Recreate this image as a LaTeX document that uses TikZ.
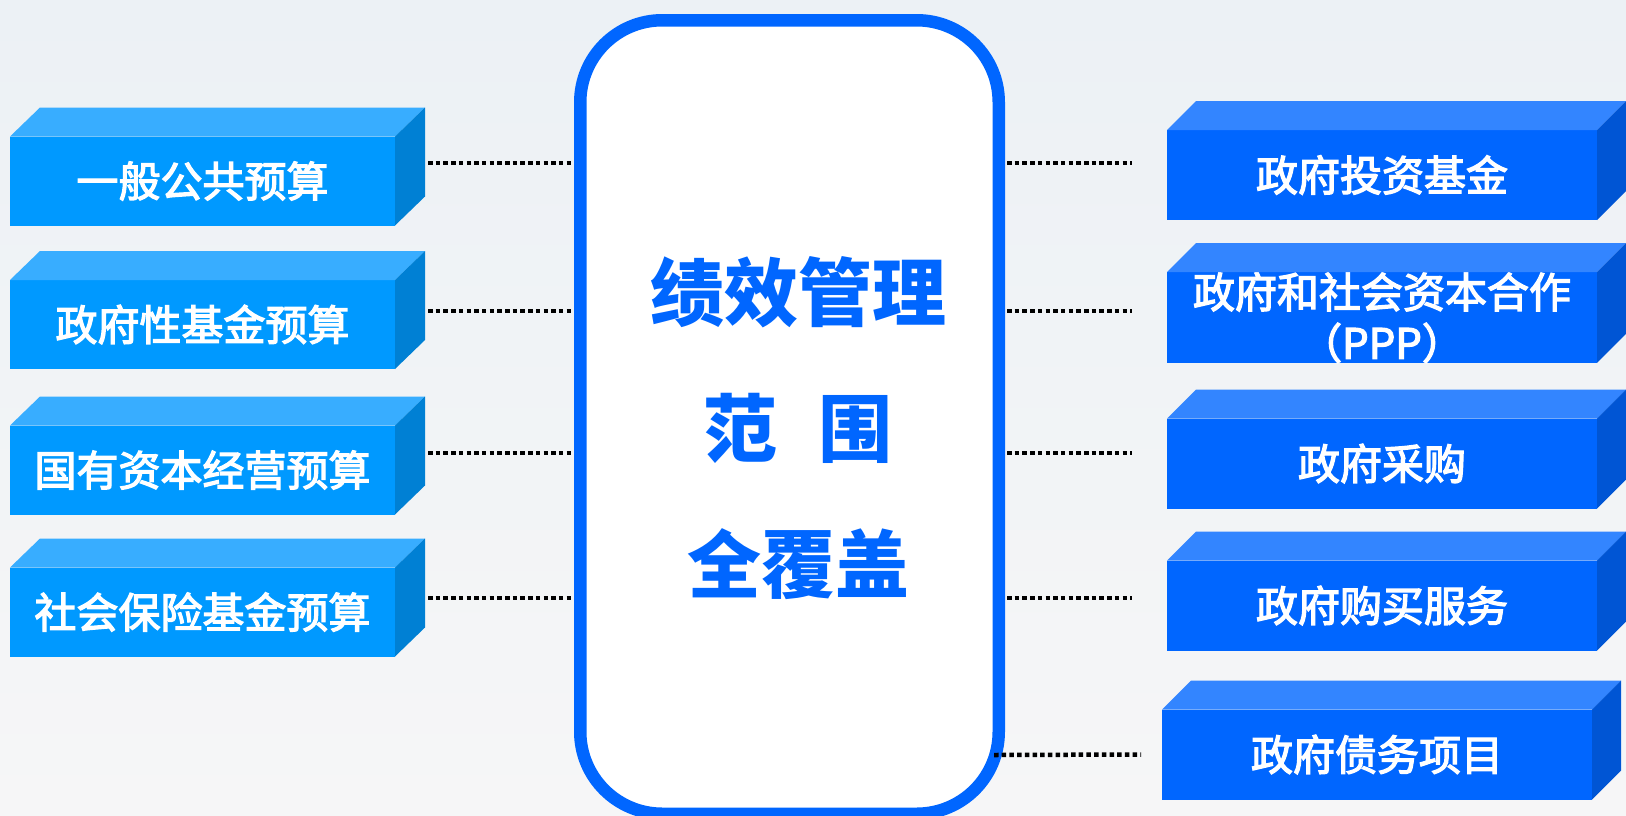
\documentclass[tikz,border=0pt]{standalone}
\usepackage{fontspec}
\newfontfamily\cjk{Noto Sans CJK SC}
\newfontfamily\cjkm{Noto Sans CJK SC}[FakeBold=3]
\usetikzlibrary{calc}
\definecolor{bgtop}{RGB}{236,241,245}
\definecolor{bgbot}{RGB}{246,246,247}
\definecolor{lfront}{RGB}{0,153,255}
\definecolor{ltop}{RGB}{56,173,255}
\definecolor{lside}{RGB}{0,128,212}
\definecolor{rfront}{RGB}{0,102,255}
\definecolor{rtop}{RGB}{51,133,255}
\definecolor{rside}{RGB}{0,85,212}
\definecolor{cblue}{RGB}{0,102,255}
\newcommand\boxfaces[4]{% node, top colour, side colour, depth
  \fill[#2] (#1.north west) -- ++(#4,-29) -- ($(#1.north east)+(#4,-29)$) -- (#1.north east) -- cycle;
  \fill[#3] (#1.north east) -- ++(#4,-29) -- ($(#1.south east)+(#4,-29)$) -- (#1.south east) -- cycle;
}
\begin{document}
\begin{tikzpicture}[x=1pt,y=-1pt,
  boxtext/.style={text=white, inner sep=0pt, outer sep=0pt, align=center,
    font=\cjkm\fontsize{42}{51}\selectfont},
  lbox/.style={boxtext, fill=lfront, minimum width=385pt, minimum height=89pt},
  rbox/.style={boxtext, fill=rfront, minimum width=430pt, minimum height=90pt},
  dotline/.style={black, line width=4.5pt, dash pattern=on 4.5pt off 3.2pt},
  centre/.style={draw=cblue, line width=12.5pt, fill=white, rounded corners=82pt,
    minimum width=418.5pt, minimum height=793.5pt, inner sep=0pt},
  centretext/.style={text=cblue, align=center,
    font=\cjk\bfseries\fontsize{74}{136}\selectfont}
]
\useasboundingbox (0,0) rectangle (1626,815);
\shade[top color=bgtop, bottom color=bgbot] (0,0) rectangle (1626,815);

% left boxes
\node[lbox] (L1) at (202.5,181) {一般公共预算};
\node[lbox] (L2) at (202.5,324.5) {政府性基金预算};
\node[lbox] (L3) at (202.5,470) {国有资本经营预算};
\node[lbox] (L4) at (202.5,612) {社会保险基金预算};
\foreach \n in {L1,L2,L3,L4} {\boxfaces{\n}{ltop}{lside}{30}}

% right boxes
\node[rbox] (R1) at (1382,175) {政府投资基金};
\node[rbox] (R2) at (1382,317.5) {政府和社会资本合作\\（PPP）};
\node[rbox] (R3) at (1382,463.5) {政府采购};
\node[rbox] (R4) at (1382,605.5) {政府购买服务};
\node[rbox] (R5) at (1377,754.5) {政府债务项目};
\foreach \n in {R1,R2,R3,R4,R5} {\boxfaces{\n}{rtop}{rside}{29}}

% centre
\node[centre] (C) at (789.5,417) {};
\node[centretext] (T) at (798,428) {绩效管理\\范\hspace{0.55em}围\\全覆盖};

% connectors
\coordinate (a1) at ($(L1.east)+(33,-18)$);
\coordinate (a2) at ($(L2.east)+(33,-13.5)$);
\coordinate (a3) at ($(L3.east)+(33,-17)$);
\coordinate (a4) at ($(L4.east)+(33,-14)$);
\foreach \a in {a1,a2,a3,a4} {\draw[dotline] (\a) -- (C.west |- \a);}
\coordinate (b1) at ($(R1.west)+(-35,-12)$);
\coordinate (b2) at ($(R2.west)+(-35,-6.5)$);
\coordinate (b3) at ($(R3.west)+(-35,-10.5)$);
\coordinate (b4) at ($(R4.west)+(-35,-7.5)$);
\foreach \b in {b1,b2,b3,b4} {\draw[dotline] ($(C.east |- \b)+(2,0)$) -- (\b);}
\coordinate (b5) at ($(R5.west)+(-21,0)$);
\draw[dotline] ($(C.south east)+(-11,-65)$) -- (b5);
\end{tikzpicture}
\end{document}
